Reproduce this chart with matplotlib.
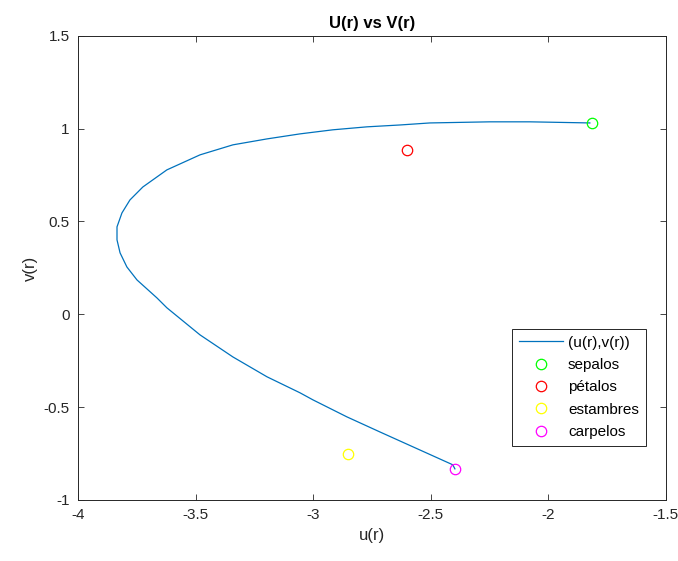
import numpy as np
import matplotlib
matplotlib.use('Agg')
import matplotlib.pyplot as plt

plt.rcParams['font.family'] = ['Liberation Sans', 'DejaVu Sans']

# curve (u(r), v(r))
u = [-1.823, -2.078, -2.248, -2.503, -2.631, -2.771, -2.916, -3.056, -3.196,
     -3.341, -3.481, -3.622, -3.724, -3.779, -3.813, -3.834, -3.834, -3.821,
     -3.792, -3.749, -3.664, -3.622, -3.481, -3.341, -3.196, -3.056, -3.001,
     -2.856, -2.716, -2.576, -2.406, -2.397]
v = [1.031, 1.037, 1.037, 1.031, 1.020, 1.010, 0.994, 0.972, 0.945,
     0.913, 0.859, 0.778, 0.686, 0.616, 0.546, 0.471, 0.401, 0.331,
     0.255, 0.185, 0.088, 0.035, -0.111, -0.230, -0.337, -0.423, -0.461,
     -0.553, -0.634, -0.714, -0.811, -0.833]

# single points
names = ['sepalos', 'pétalos', 'estambres', 'carpelos']
pu = [-1.815, -2.601, -2.852, -2.397]
pv = [1.031, 0.886, -0.752, -0.833]
colors = ['#00ff00', '#ff0000', '#ffff00', '#ff00ff']

fig = plt.figure(figsize=(6.78, 5.61), dpi=100)
ax = fig.add_axes([0.115, 0.109, 0.867, 0.827])

ax.plot(u, v, color='#0072BD', lw=0.9, label='(u(r),v(r))')
for n, x, y, c in zip(names, pu, pv, colors):
    ax.plot(x, y, 'o', mfc='none', mec=c, ms=7.5, mew=0.9, label=n, ls='none')

ax.set_xlim(-4, -1.5)
ax.set_ylim(-1, 1.5)
ax.set_xticks(np.arange(-4, -1.4, 0.5))
ax.set_yticks(np.arange(-1, 1.6, 0.5))
ax.set_xticklabels(['-4', '-3.5', '-3', '-2.5', '-2', '-1.5'])
ax.set_yticklabels(['-1', '-0.5', '0', '0.5', '1', '1.5'])
ax.tick_params(direction='in', top=True, right=True, length=4, width=0.6,
               colors='#262626', labelsize=11, pad=6)
for s in ax.spines.values():
    s.set_linewidth(0.7)
    s.set_color('#262626')

ax.set_xlabel('u(r)', fontsize=12, color='#262626')
ax.set_ylabel('v(r)', fontsize=12, color='#262626')
ax.set_title('U(r) vs V(r)', fontsize=12, fontweight='bold', pad=6)

leg = ax.legend(loc='lower right', bbox_to_anchor=(0.966, 0.116), fontsize=11,
                fancybox=False, edgecolor='#262626', framealpha=1,
                handlelength=2.9, handletextpad=0.3, borderpad=0.45,
                labelspacing=0.55, borderaxespad=0)
leg.get_frame().set_linewidth(0.7)

fig.savefig('out.png', dpi=100)
